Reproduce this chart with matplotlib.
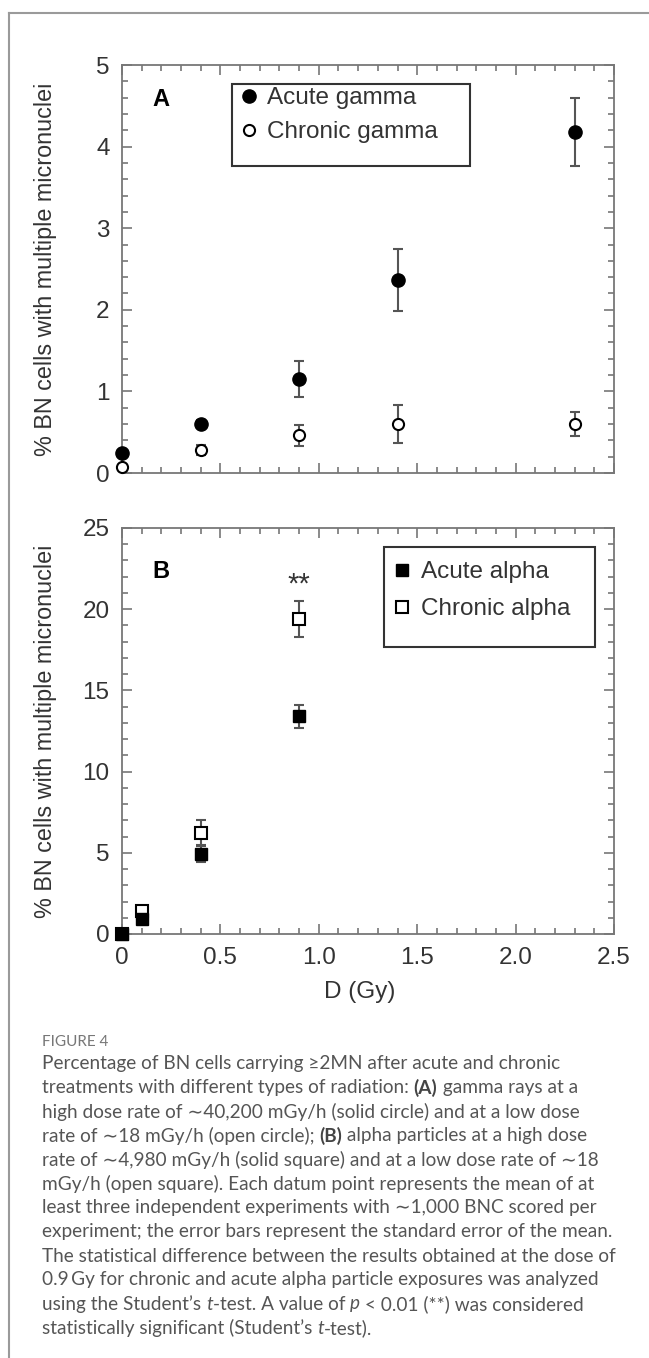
import matplotlib
matplotlib.use('Agg')
import matplotlib.pyplot as plt
from matplotlib.patches import Rectangle
from matplotlib.lines import Line2D
from matplotlib.ticker import MultipleLocator

# ---------------- data ----------------
dose_gamma = [0.0, 0.4, 0.9, 1.4, 2.3]
acute_gamma = [0.24, 0.60, 1.15, 2.37, 4.18]
acute_gamma_err = [0.03, 0.05, 0.22, 0.38, 0.42]
chronic_gamma = [0.07, 0.28, 0.46, 0.60, 0.60]
chronic_gamma_err = [0.02, 0.06, 0.13, 0.23, 0.15]

dose_alpha = [0.0, 0.1, 0.4, 0.9]
acute_alpha = [0.0, 0.95, 4.95, 13.4]
acute_alpha_err = [0.0, 0.10, 0.50, 0.70]
chronic_alpha = [0.0, 1.4, 6.2, 19.4]
chronic_alpha_err = [0.0, 0.10, 0.80, 1.10]

x_ticks = [0.0, 0.5, 1.0, 1.5, 2.0, 2.5]
x_ticklabels = ['0', '0.5', '1.0', '1.5', '2.0', '2.5']
yA_ticks = [0, 1, 2, 3, 4, 5]
yB_ticks = [0, 5, 10, 15, 20, 25]

ylabel = '% BN cells with multiple micronuclei'
xlabel = 'D (Gy)'
legendA = ['Acute gamma', 'Chronic gamma']
legendB = ['Acute alpha', 'Chronic alpha']

caption_title = 'FIGURE 4'
caption_lines = [
    [('Percentage of BN cells carrying \u22652MN after acute and chronic', 'n')],
    [('treatments with different types of radiation: ', 'n'), ('(A)', 'b'), (' gamma rays at a', 'n')],
    [('high dose rate of \u223c40,200 mGy/h (solid circle) and at a low dose', 'n')],
    [('rate of \u223c18 mGy/h (open circle); ', 'n'), ('(B)', 'b'), (' alpha particles at a high dose', 'n')],
    [('rate of \u223c4,980 mGy/h (solid square) and at a low dose rate of \u223c18', 'n')],
    [('mGy/h (open square). Each datum point represents the mean of at', 'n')],
    [('least three independent experiments with \u223c1,000 BNC scored per', 'n')],
    [('experiment; the error bars represent the standard error of the mean.', 'n')],
    [('The statistical difference between the results obtained at the dose of', 'n')],
    [('0.9\u2009Gy for chronic and acute alpha particle exposures was analyzed', 'n')],
    [('using the Student\u2019s ', 'n'), ('t', 'i'), ('-test. A value of ', 'n'), ('p', 'i'),
     (' < 0.01 (**) was considered', 'n')],
    [('statistically significant (Student\u2019s ', 'n'), ('t', 'i'), ('-test).', 'n')],
]

# ---------------- style ----------------
W, H = 649, 1358
DPI = 100
plt.rcParams['font.family'] = ['Liberation Sans', 'DejaVu Sans']
spine_c = '#777777'
text_c = '#333333'
err_c = '#555555'

fig = plt.figure(figsize=(W / DPI, H / DPI), dpi=DPI)
fig.patch.set_facecolor('white')


def px_axes(l, t, r, b):
    return fig.add_axes([l / W, 1 - b / H, (r - l) / W, (b - t) / H])


axA = px_axes(122, 65, 614, 473)
axB = px_axes(122, 528, 614, 934)

for ax in (axA, axB):
    for s in ax.spines.values():
        s.set_color(spine_c)
        s.set_linewidth(1.3)
    ax.tick_params(which='both', direction='in', top=True, right=True,
                   color=spine_c, width=1.2, labelcolor=text_c, labelsize=17.5, pad=9)
    ax.tick_params(which='major', length=7)
    ax.tick_params(which='minor', length=4)
    ax.set_xlim(0, 2.5)
    ax.set_xticks(x_ticks)
    ax.xaxis.set_minor_locator(MultipleLocator(0.1))

# ---- panel A ----
axA.set_ylim(0, 5)
axA.set_yticks(yA_ticks)
axA.yaxis.set_minor_locator(MultipleLocator(0.2))
axA.set_xticklabels([])
axA.errorbar(dose_gamma, acute_gamma, yerr=acute_gamma_err, fmt='none', ecolor=err_c,
             elinewidth=1.5, capsize=3.5, capthick=1.5, zorder=2)
axA.errorbar(dose_gamma, chronic_gamma, yerr=chronic_gamma_err, fmt='none', ecolor=err_c,
             elinewidth=1.5, capsize=3.5, capthick=1.5, zorder=2)
hA1, = axA.plot(dose_gamma, acute_gamma, 'o', ms=9.5, mfc='black', mec='black', ls='none',
                zorder=4, clip_on=False, label=legendA[0])
hA2, = axA.plot(dose_gamma, chronic_gamma, 'o', ms=8, mfc='white', mec='black', mew=1.5,
                ls='none', zorder=3, clip_on=False, label=legendA[1])
axA.text(0.2, 4.58, 'A', fontsize=17, fontweight='bold', ha='center', va='center', color='black')
axA.add_patch(Rectangle((0.224, 0.752), 0.707 - 0.224, 0.953 - 0.752, transform=axA.transAxes,
                        fill=False, ec='#333333', lw=1.5, zorder=5))
axA.legend(handles=[hA1, hA2], loc='upper left', bbox_to_anchor=(0.233, 0.958), frameon=False,
           fontsize=17.5, handlelength=0.6, handletextpad=0.45, labelspacing=0.5,
           borderpad=0.2, borderaxespad=0, labelcolor=text_c)

# ---- panel B ----
axB.set_ylim(0, 25)
axB.set_yticks(yB_ticks)
axB.yaxis.set_minor_locator(MultipleLocator(1))
axB.set_xticklabels(x_ticklabels)
axB.errorbar(dose_alpha, acute_alpha, yerr=acute_alpha_err, fmt='none', ecolor=err_c,
             elinewidth=1.5, capsize=3.5, capthick=1.5, zorder=2)
axB.errorbar(dose_alpha, chronic_alpha, yerr=chronic_alpha_err, fmt='none', ecolor=err_c,
             elinewidth=1.5, capsize=3.5, capthick=1.5, zorder=2)
hB2, = axB.plot(dose_alpha, chronic_alpha, 's', ms=9, mfc='white', mec='black', mew=1.5,
                ls='none', zorder=3, clip_on=False, label=legendB[1])
hB1, = axB.plot(dose_alpha, acute_alpha, 's', ms=9, mfc='black', mec='black', ls='none',
                zorder=4, clip_on=False, label=legendB[0])
axB.text(0.2, 22.3, 'B', fontsize=17, fontweight='bold', ha='center', va='center', color='black')
axB.text(dose_alpha[3], chronic_alpha[3] + chronic_alpha_err[3] + 1.0, '**', fontsize=21,
         ha='center', va='center', color=text_c)
axB.add_patch(Rectangle((0.533, 0.707), 0.961 - 0.533, 0.953 - 0.707, transform=axB.transAxes,
                        fill=False, ec='#333333', lw=1.5, zorder=5))
axB.legend(handles=[hB1, hB2], loc='upper left', bbox_to_anchor=(0.545, 0.93), frameon=False,
           fontsize=17.5, handlelength=0.6, handletextpad=0.45, labelspacing=0.62,
           borderpad=0.2, borderaxespad=0, labelcolor=text_c)

# ---- axis labels ----
for (t, b) in ((65, 473), (528, 934)):
    fig.text(45.5 / W, 1 - (t + b) / 2 / H, ylabel, rotation=90, ha='center', va='center',
             fontsize=16.8, color=text_c)
fig.text(360 / W, 1 - 992 / H, xlabel, ha='center', va='center', fontsize=17.5, color=text_c)

# ---- frame lines of the figure panel ----
fig.add_artist(Line2D([9 / W, 1.0], [1 - 13 / H, 1 - 13 / H], transform=fig.transFigure,
                      color='#9a9a9a', lw=1.5))
fig.add_artist(Line2D([9 / W, 9 / W], [0, 1 - 13 / H], transform=fig.transFigure,
                      color='#9a9a9a', lw=1.5))

# ---- caption ----
cap_fam = ['Lato', 'DejaVu Sans']
cap_size = 13.7
cap_c = '#555555'
fig.text(42 / W, 1 - 1042 / H, caption_title, fontsize=11, color='#777777', family=cap_fam,
         ha='left', va='center')

renderer = fig.canvas.get_renderer()


def seg_width(txt, props):
    t1 = fig.text(0, 0, '|' + txt + '|', **props)
    t2 = fig.text(0, 0, '||', **props)
    w = t1.get_window_extent(renderer).width - t2.get_window_extent(renderer).width
    t1.remove()
    t2.remove()
    return w


style_props = {
    'n': dict(fontsize=cap_size, family=cap_fam, color=cap_c),
    'b': dict(fontsize=cap_size, family=cap_fam, color='#444444', fontweight='bold'),
    'i': dict(fontsize=cap_size, family=cap_fam, color=cap_c, fontstyle='italic'),
}

y0, dy = 1064, 24
for i, line in enumerate(caption_lines):
    x = 42.0
    y = y0 + i * dy
    for txt, st in line:
        props = style_props[st]
        fig.text(x / W, 1 - y / H, txt, ha='left', va='center', **props)
        x += seg_width(txt, props)

fig.savefig('out.png', dpi=DPI, facecolor='white')
